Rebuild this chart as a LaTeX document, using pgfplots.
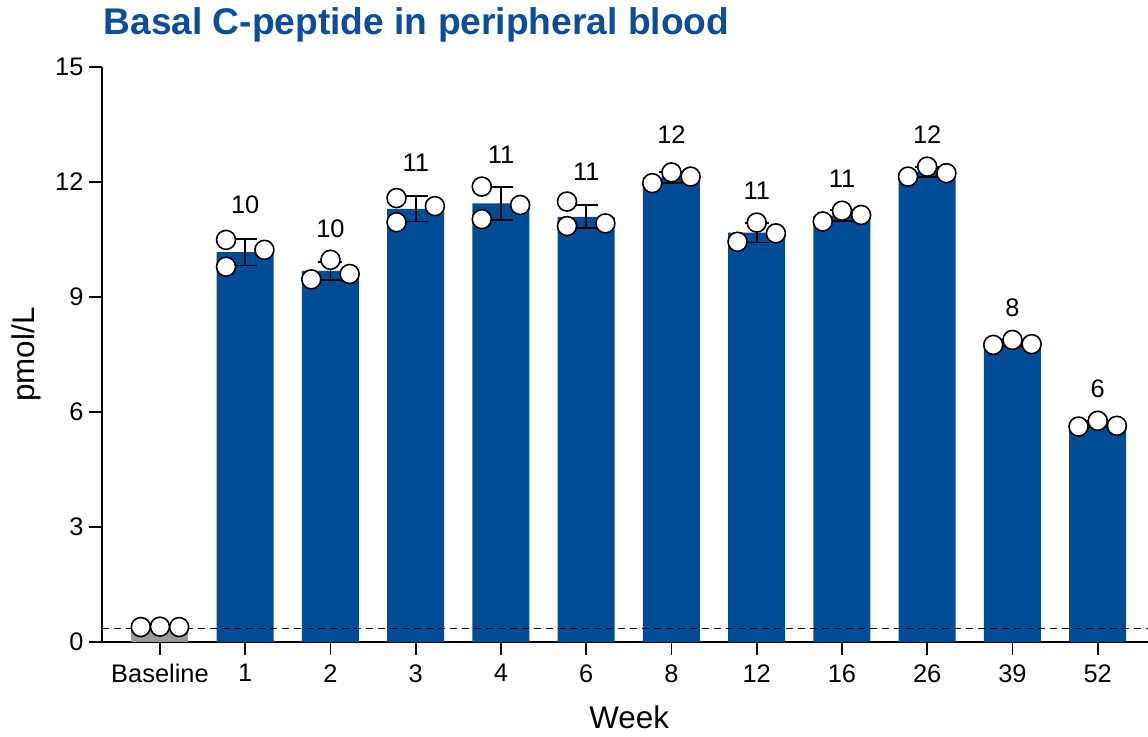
\documentclass[border=0pt]{standalone}
\usepackage{pgfplots}
\pgfplotsset{compat=1.18}
\usepackage{pgfplotstable}
\usepackage{fontspec}
\setmainfont{Liberation Sans}
\definecolor{barblue}{RGB}{0,76,151}
\definecolor{titleblue}{RGB}{10,78,155}
\definecolor{bargrey}{RGB}{153,153,153}

\pgfplotstableread{
x y err
0 0.39 0.01
}\base
\pgfplotstableread{
x y err
1 10.17 0.35
2 9.68 0.24
3 11.30 0.33
4 11.44 0.43
5 11.09 0.30
6 12.12 0.14
7 10.68 0.26
8 11.12 0.14
9 12.26 0.13
10 7.80 0.07
11 5.68 0.08
}\bars
\pgfplotstableread{
x y
-0.225 0.39
0 0.40
0.225 0.39
0.775 10.49
0.775 9.79
1.225 10.23
1.775 9.46
2 9.97
2.225 9.60
2.775 11.58
2.775 10.95
3.225 11.37
3.775 11.88
3.775 11.03
4.225 11.40
4.775 11.49
4.775 10.85
5.225 10.92
5.775 11.97
6 12.25
6.225 12.14
6.775 10.44
7 10.94
7.225 10.66
7.775 10.97
8 11.25
8.225 11.14
8.775 12.14
9 12.40
9.225 12.23
9.775 7.75
10 7.88
10.225 7.77
10.775 5.62
11 5.77
11.225 5.64
}\pts
\pgfplotstableread{
x y lab
1 11.40 10
2 10.79 10
3 12.50 11
4 12.71 11
5 12.27 11
6 13.23 12
7 11.78 11
8 12.09 11
9 13.23 12
10 8.73 8
11 6.61 6
}\labs

\begin{document}
\begin{tikzpicture}
\useasboundingbox (-102bp,-95bp) rectangle (1046bp,642bp);
\begin{axis}[
  scale only axis, width=1046bp, height=575bp,
  xmin=-0.68, xmax=11.59, ymin=0, ymax=15,
  clip=false,
  axis x line*=bottom, axis y line*=left,
  xtick={0,...,11},
  xticklabels={Baseline,1,2,3,4,6,8,12,16,26,39,52},
  ytick={0,3,...,15},
  tick align=outside, major tick length=13bp,
  tick style={black, line width=1.8bp},
  axis line style={black, line width=1.8bp},
  ticklabel style={font=\fontsize{25.5}{30}\selectfont},
  xticklabel style={yshift=-6bp},
  yticklabel style={xshift=-2bp},
  /pgf/number format/assume math mode=true,
  xlabel={Week}, ylabel={pmol/L},
  label style={font=\fontsize{31.5}{36}\selectfont},
  xlabel style={at={(axis description cs:0.504,0)}, anchor=center, yshift=-75.5bp},
  ylabel style={at={(axis description cs:0,0.5)}, anchor=center, yshift=76bp},
  title={Basal C-peptide in peripheral blood},
  title style={at={(axis description cs:0,1)}, anchor=base west, xshift=-2bp, yshift=27bp,
    font=\fontsize{37.3}{42}\selectfont\bfseries, text=titleblue},
]
\addplot[ybar, bar shift=0pt, bar width=57bp, fill=bargrey, draw=none,
  error bars/.cd, y dir=both, y explicit,
  error bar style={black, line width=1.8bp},
  error mark options={rotate=90, mark size=12bp, line width=1.8bp, black}]
  table[x=x, y=y, y error=err]{\base};
\addplot[ybar, bar shift=0pt, bar width=57bp, fill=barblue, draw=none,
  error bars/.cd, y dir=both, y explicit,
  error bar style={black, line width=1.8bp},
  error mark options={rotate=90, mark size=12bp, line width=1.8bp, black}]
  table[x=x, y=y, y error=err]{\bars};
\addplot[only marks, mark=*, mark size=9.5bp,
  mark options={fill=white, draw=black, line width=1.6bp}]
  table[x=x, y=y]{\pts};
\addplot[black, line width=1.7bp, dash pattern=on 7bp off 5bp]
  coordinates {(-0.68,0.35) (11.59,0.35)};
\addplot[draw=none, nodes near coords, point meta=explicit symbolic,
  nodes near coords style={anchor=center, font=\fontsize{25.5}{30}\selectfont, text=black}]
  table[x=x, y=y, meta=lab]{\labs};
\end{axis}
\end{tikzpicture}
\end{document}
